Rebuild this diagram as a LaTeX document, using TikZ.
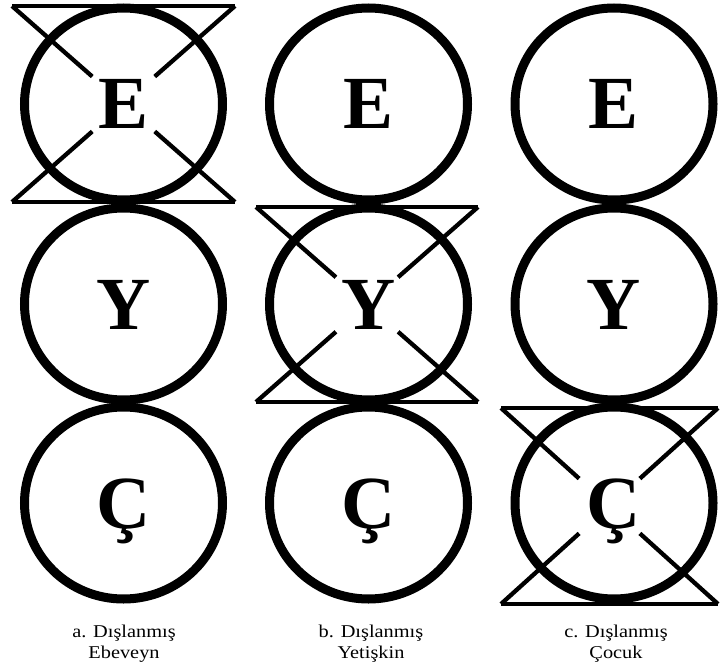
\documentclass[tikz,border=0pt]{standalone}
\usepackage{fontspec}
\setmainfont{Liberation Serif}
\usetikzlibrary{calc,shapes.geometric}

\begin{document}
\begin{tikzpicture}[
  x=1pt,y=-1pt,
  role/.style={ellipse,draw,line width=9pt,minimum width=198pt,minimum height=192pt,
               inner sep=0pt,text height=50pt,text depth=0pt,
               font=\fontsize{75}{75}\selectfont\bfseries},
  cross/.style={line width=4.3pt},
  caption/.style={anchor=base,align=center,xscale=1.13,transform shape,
                  font=\fontsize{18}{21}\selectfont}
]
  \useasboundingbox (0,0) rectangle (722,671);

  % family roles, one column per case
  \node[role] (aE) at (123.5,104) {E};
  \node[role] (aY) at (123.5,304) {Y};
  \node[role] (aC) at (123.5,503) {Ç};
  \node[role] (bE) at (368.5,104) {E};
  \node[role] (bY) at (368.5,304) {Y};
  \node[role] (bC) at (368.5,503) {Ç};
  \node[role] (cE) at (614,104) {E};
  \node[role] (cY) at (614,304) {Y};
  \node[role] (cC) at (614,503) {Ç};

  % crossed-out member
  \coordinate (atl) at (12,6);   \coordinate (atr) at (235,6);
  \coordinate (abl) at (12,202); \coordinate (abr) at (235,202);
  \coordinate (btl) at (256,207); \coordinate (btr) at (478,207);
  \coordinate (bbl) at (256,402); \coordinate (bbr) at (478,402);
  \coordinate (ctl) at (501,408); \coordinate (ctr) at (718,408);
  \coordinate (cbl) at (501,604); \coordinate (cbr) at (718,604);

  \foreach \h in {a,b,c}{
    \draw[cross] (\h tl) -- (\h tr);
    \draw[cross] (\h bl) -- (\h br);
    \draw[cross] (\h tl) -- ($(\h tl)!0.36!(\h br)$);
    \draw[cross] ($(\h tl)!0.64!(\h br)$) -- (\h br);
    \draw[cross] (\h tr) -- ($(\h tr)!0.36!(\h bl)$);
    \draw[cross] ($(\h tr)!0.64!(\h bl)$) -- (\h bl);
  }

  \node[caption] (aT) at (124,658) {a. Dışlanmış\\Ebeveyn};
  \node[caption] (bT) at (371,658) {b. Dışlanmış\\Yetişkin};
  \node[caption] (cT) at (616,658) {c. Dışlanmış\\Çocuk};
\end{tikzpicture}
\end{document}
